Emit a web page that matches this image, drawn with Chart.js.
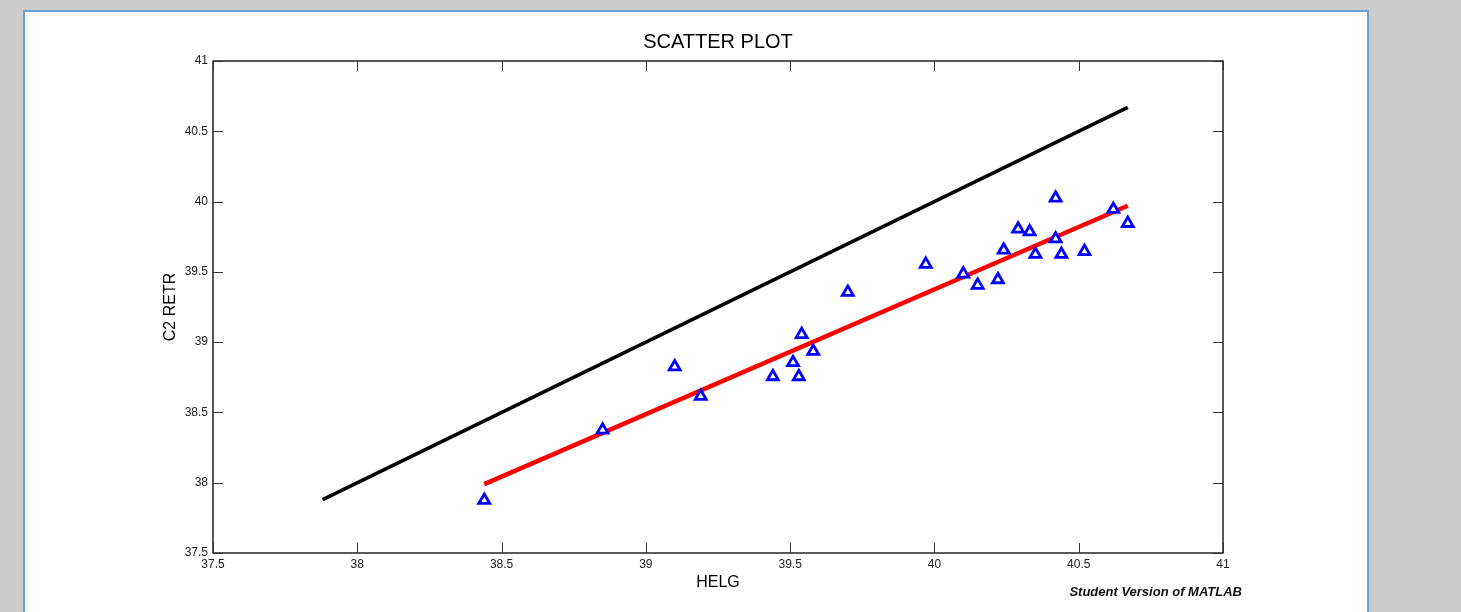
<!DOCTYPE html>
<html>
<head>
<meta charset="utf-8">
<script src="https://cdn.jsdelivr.net/npm/chart.js@4"></script>
<style>
  html, body { margin: 0; padding: 0; background: #cccccc; overflow: hidden; }
  #panel {
    position: absolute; left: 23px; top: 10px; width: 1342px; height: 640px;
    background: #ffffff; border: 2px solid #6b9fcf;
  }
  #myChart { position: absolute; left: 0; top: 0; }
</style>
</head>
<body>
<div id="panel"></div>
<canvas id="myChart" width="1461" height="612"></canvas>
<script>

// valores
let helg = [38.44, 38.85, 39.10, 39.19, 39.44, 39.51, 39.53, 39.54, 39.58, 39.70, 39.97, 40.10,
            40.15, 40.22, 40.24, 40.29, 40.33, 40.35, 40.42, 40.42, 40.44, 40.52, 40.62, 40.67];
let c2retr = [37.875, 38.375, 38.825, 38.615, 38.755, 38.855, 38.755, 39.055, 38.935, 39.355, 39.555, 39.485,
              39.405, 39.445, 39.655, 39.805, 39.785, 39.625, 39.735, 40.025, 39.625, 39.645, 39.945, 39.845];

let lineaX = [37.88, 40.67];
let lineaY = [37.88, 40.67];

let ajusteX = [38.44, 40.67];
let ajusteY = [37.99, 39.97];

let ticksX = [37.5, 38, 38.5, 39, 39.5, 40, 40.5, 41];
let ticksY = [37.5, 38, 38.5, 39, 39.5, 40, 40.5, 41];

function f_puntos(xs, ys){
    let data = [];
    for (let i = 0; i < xs.length; i++){
        data.push({x: xs[i], y: ys[i]});
    }
    return data;
}

const fuente = "'Liberation Sans', Arial, Helvetica, sans-serif";

// caja y marcas hacia adentro, estilo matlab
const cajaMatlab = {
    id: 'cajaMatlab',
    afterDatasetsDraw(chart){
        const ctx = chart.ctx;
        const a = chart.chartArea;
        const sx = chart.scales.x;
        const sy = chart.scales.y;
        const largo = 10;
        ctx.save();
        ctx.strokeStyle = '#000000';
        ctx.lineWidth = 1.3;
        ctx.strokeRect(a.left, a.top, a.right - a.left, a.bottom - a.top);
        ctx.lineWidth = 1;
        ctx.strokeStyle = '#333333';
        ctx.beginPath();
        ticksX.forEach(v => {
            let px = Math.round(sx.getPixelForValue(v)) + 0.5;
            ctx.moveTo(px, a.bottom); ctx.lineTo(px, a.bottom - largo);
            ctx.moveTo(px, a.top); ctx.lineTo(px, a.top + largo);
        });
        ticksY.forEach(v => {
            let py = Math.round(sy.getPixelForValue(v)) + 0.5;
            ctx.moveTo(a.left, py); ctx.lineTo(a.left + largo, py);
            ctx.moveTo(a.right, py); ctx.lineTo(a.right - largo, py);
        });
        ctx.stroke();

        ctx.fillStyle = '#111111';
        ctx.font = "italic bold 13px " + fuente;
        ctx.textAlign = 'right';
        ctx.textBaseline = 'middle';
        ctx.fillText('Student Version of MATLAB', 1242, 592);
        ctx.restore();
    }
};

const datasets = [
    {
        label: 'datos',
        type: 'scatter',
        data: f_puntos(helg, c2retr),
        pointStyle: 'triangle',
        pointRadius: 6.3,
        pointHoverRadius: 6.3,
        borderColor: '#0000ff',
        backgroundColor: '#ffffff',
        borderWidth: 2.8,
        order: 0
    },
    {
        label: 'ajuste',
        type: 'line',
        data: f_puntos(ajusteX, ajusteY),
        borderColor: '#ff0000',
        borderWidth: 4.5,
        pointRadius: 0,
        fill: false,
        order: 1
    },
    {
        label: 'x = y',
        type: 'line',
        data: f_puntos(lineaX, lineaY),
        borderColor: '#000000',
        borderWidth: 3.5,
        pointRadius: 0,
        fill: false,
        order: 2
    }
];

const config = {
    type: 'scatter',
    data: { datasets },
    options: {
        responsive: false,
        animation: false,
        devicePixelRatio: 1,
        layout: { padding: { left: 0, top: 0, right: 238, bottom: 0 } },
        plugins: {
            legend: { display: false },
            tooltip: { enabled: false },
            title: {
                display: true,
                fullSize: false,
                text: 'SCATTER PLOT',
                color: '#000000',
                font: { family: fuente, size: 20, weight: 'normal', lineHeight: 1.2 },
                padding: { top: 30, bottom: 7 }
            }
        },
        scales: {
            x: {
                type: 'linear',
                min: 37.5,
                max: 41,
                afterBuildTicks: (s) => { s.ticks = ticksX.map(v => ({value: v})); },
                afterFit: (s) => { s.height = 59; },
                grid: { display: false, drawTicks: false },
                border: { display: false },
                ticks: {
                    color: '#222222',
                    padding: 4,
                    maxRotation: 0,
                    autoSkip: false,
                    font: { family: fuente, size: 12 },
                    callback: (v) => String(v)
                },
                title: {
                    display: true,
                    text: 'HELG',
                    color: '#000000',
                    font: { family: fuente, size: 16, lineHeight: 1.2 },
                    padding: { top: 0, bottom: 20 }
                }
            },
            y: {
                type: 'linear',
                min: 37.5,
                max: 41,
                afterBuildTicks: (s) => { s.ticks = ticksY.map(v => ({value: v})); },
                afterFit: (s) => { s.width = 213; },
                grid: { display: false, drawTicks: false },
                border: { display: false },
                ticks: {
                    color: '#222222',
                    padding: 5,
                    autoSkip: false,
                    font: { family: fuente, size: 12 },
                    callback: (v) => String(v)
                },
                title: {
                    display: true,
                    text: 'C2 RETR',
                    color: '#000000',
                    font: { family: fuente, size: 16, lineHeight: 1.2 },
                    padding: { top: 161, bottom: 0 }
                }
            }
        }
    },
    plugins: [cajaMatlab]
};

let myChart = document.getElementById('myChart');
let grafico = new Chart(myChart, config);

</script>
</body>
</html>
